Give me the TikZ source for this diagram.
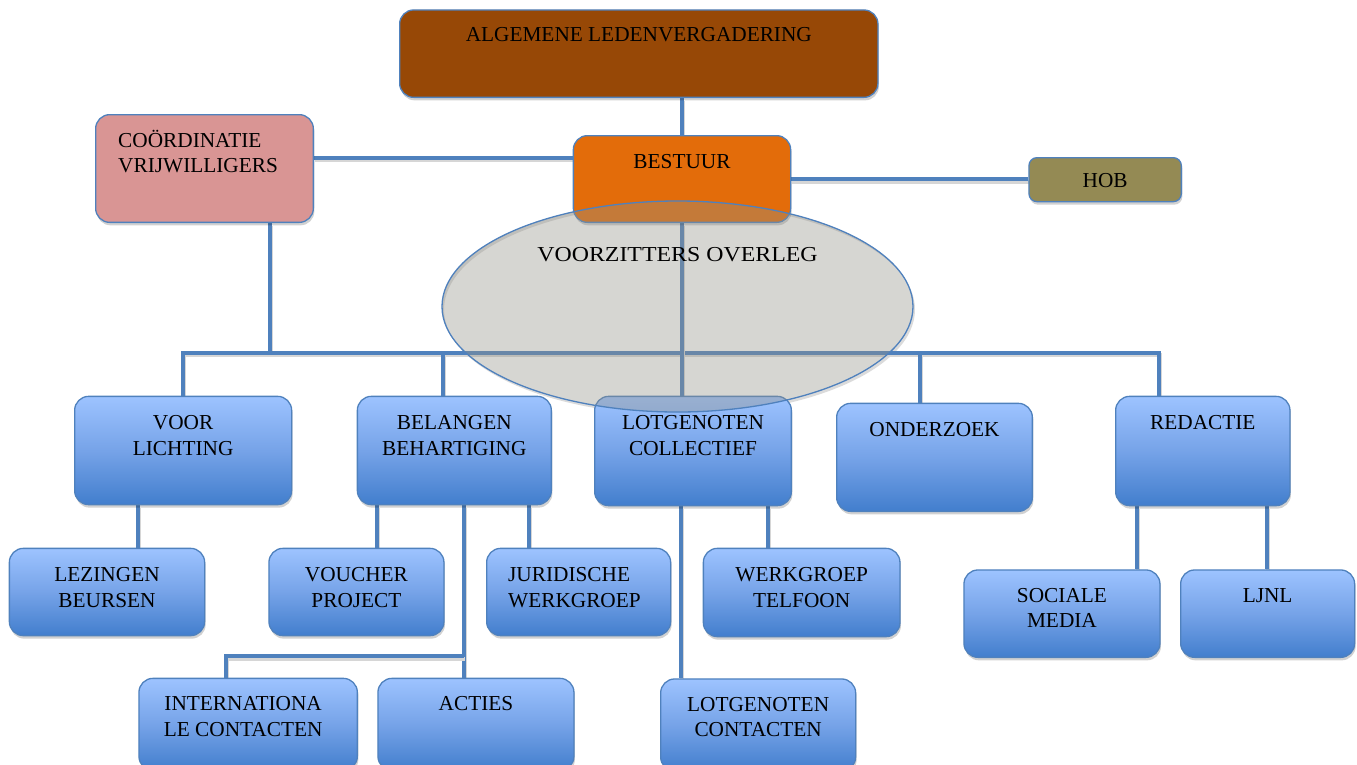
\documentclass[tikz,border=0pt]{standalone}
\usepackage{fontspec}
\setmainfont{Liberation Serif}
\usetikzlibrary{shapes.geometric,shadows,calc}
\definecolor{lineblue}{RGB}{79,129,189}
\definecolor{alvbrown}{RGB}{151,72,6}
\definecolor{coordpink}{RGB}{217,149,148}
\definecolor{bestorange}{RGB}{227,108,10}
\definecolor{hobolive}{RGB}{148,138,84}
\definecolor{boxtop}{RGB}{157,195,255}
\definecolor{boxmid}{RGB}{118,163,232}
\definecolor{boxbot}{RGB}{66,126,205}
\definecolor{ellgray}{RGB}{148,146,136}
\pgfdeclarelayer{bg}
\pgfsetlayers{bg,main}
\tikzset{
  box/.style={rounded corners=14pt, draw=lineblue, line width=1.3pt, inner sep=0pt,
    anchor=north west, drop shadow={shadow xshift=1pt, shadow yshift=-3pt, fill=black, opacity=0.18}},
  bluebox/.style={box, top color=boxtop, bottom color=boxbot, middle color=boxmid},
  lbl/.style={font=\fontsize{21.3}{25.5}\selectfont, align=center, anchor=north, inner sep=0pt, text=black},
  lbll/.style={lbl, align=left, anchor=north west},
  conn/.style={line width=4pt, draw=lineblue,
    preaction={draw=black!16, line width=4pt, transform canvas={xshift=0.8pt, yshift=-2.5pt}}},
}
\begin{document}
\begin{tikzpicture}[x=1pt,y=-1pt]
\useasboundingbox (0,0) rectangle (1357,764);
\clip (0,0) rectangle (1357,764);
% top level
\node[box, fill=alvbrown, minimum width=478.3pt, minimum height=87.4pt] (alv) at (399,9.3) {};
\node[lbl] (alv-t) at ([yshift=-14pt]alv.north) {\strut ALGEMENE LEDENVERGADERING};
\node[box, fill=coordpink, minimum width=217.7pt, minimum height=107.7pt] (coord) at (95,114) {};
\node[lbll] (coord-t) at ([xshift=23pt,yshift=-15pt]coord.north west) {\strut COÖRDINATIE\\VRIJWILLIGERS};
\node[box, fill=bestorange, minimum width=217.3pt, minimum height=86.7pt] (bestuur) at (572.7,135) {};
\node[lbl] (bestuur-t) at ([yshift=-15pt]bestuur.north) {\strut BESTUUR};
\node[box, rounded corners=8pt, fill=hobolive, minimum width=152.4pt, minimum height=44pt] (hob) at (1028.3,157) {};
\node[lbl] (hob-t) at ([yshift=-12pt]hob.north) {\strut HOB};
% level 2
\node[bluebox, minimum width=217pt, minimum height=108.3pt] (voor) at (74,395.7) {};
\node[lbl] (voor-t) at ([yshift=-16pt]voor.north) {\strut VOOR\\LICHTING};
\node[bluebox, minimum width=194pt, minimum height=108.3pt] (bel) at (356.7,395.7) {};
\node[lbl] (bel-t) at ([yshift=-16pt]bel.north) {\strut BELANGEN\\BEHARTIGING};
\node[bluebox, minimum width=196.7pt, minimum height=109.3pt] (lotcol) at (594,395.7) {};
\node[lbl] (lotcol-t) at ([yshift=-16pt]lotcol.north) {\strut LOTGENOTEN\\COLLECTIEF};
\node[bluebox, minimum width=195.7pt, minimum height=108pt] (ond) at (836,402.7) {};
\node[lbl] (ond-t) at ([yshift=-16pt]ond.north) {\strut ONDERZOEK};
\node[bluebox, minimum width=174.3pt, minimum height=109.3pt] (red) at (1115,395.7) {};
\node[lbl] (red-t) at ([yshift=-16pt]red.north) {\strut REDACTIE};
% level 3
\node[bluebox, minimum width=195.3pt, minimum height=87.3pt] (lez) at (8.7,547.7) {};
\node[lbl] (lez-t) at ([yshift=-16pt]lez.north) {\strut LEZINGEN\\BEURSEN};
\node[bluebox, minimum width=175pt, minimum height=87.3pt] (vou) at (268.3,547.7) {};
\node[lbl] (vou-t) at ([yshift=-16pt]vou.north) {\strut VOUCHER\\PROJECT};
\node[bluebox, minimum width=184pt, minimum height=87.3pt] (jur) at (486,547.7) {};
\node[lbll] (jur-t) at ([xshift=22pt,yshift=-16pt]jur.north west) {\strut JURIDISCHE\\WERKGROEP};
\node[bluebox, minimum width=196.6pt, minimum height=88.3pt] (wg) at (702.7,547.7) {};
\node[lbl] (wg-t) at ([yshift=-16pt]wg.north) {\strut WERKGROEP\\TELFOON};
\node[bluebox, minimum width=196pt, minimum height=87.4pt] (soc) at (963.3,569.3) {};
\node[lbl] (soc-t) at ([yshift=-15pt]soc.north) {\strut SOCIALE\\MEDIA};
\node[bluebox, minimum width=174pt, minimum height=87.4pt] (ljnl) at (1180,569.3) {};
\node[lbl] (ljnl-t) at ([yshift=-15pt]ljnl.north) {\strut LJNL};
% level 4
\node[bluebox, minimum width=218.4pt, minimum height=92pt] (int) at (138.3,677.7) {};
\node[lbl] (int-t) at ([xshift=-5pt,yshift=-15pt]int.north) {\strut INTERNATIONA\\LE CONTACTEN};
\node[bluebox, minimum width=196pt, minimum height=92pt] (act) at (377.3,677.7) {};
\node[lbl] (act-t) at ([yshift=-15pt]act.north) {\strut ACTIES};
\node[bluebox, minimum width=195pt, minimum height=92pt] (lotc) at (660,678.3) {};
\node[lbl] (lotc-t) at ([yshift=-15pt]lotc.north) {\strut LOTGENOTEN\\CONTACTEN};
% ellipse
\coordinate (voc) at (677.5,306.5);
\node[ellipse, draw=lineblue, line width=1.3pt, fill=ellgray, fill opacity=0.38, draw opacity=1,
  minimum width=471pt, minimum height=211pt, inner sep=0pt] (vo) at (voc) {};
\node[lbl, anchor=base] (vo-t) at (677.5,261) {\scalebox{1.12}[1]{VOORZITTERS OVERLEG}};
% connectors
\begin{pgfonlayer}{bg}
\fill[black!14, even odd rule] ([xshift=2pt,yshift=-3pt]voc) ellipse [x radius=235.5pt, y radius=105.5pt]
  (voc) ellipse [x radius=235.5pt, y radius=105.5pt];
\coordinate (bus) at (0,352.5);
\coordinate (cb) at ($(coord.east)+(0,-11)$);
\coordinate (ij) at (464,656);
\draw[conn] (alv.south -| bestuur.north) -- (bestuur.north);
\draw[conn] (cb) -- (cb -| bestuur.west);
\draw[conn] (bestuur.east) -- (bestuur.east -| hob.west);
\draw[conn] (coord.south -| 270,0) -- (bus -| 270,0);
\draw[conn] (voor.north) -- (bus -| voor.north) -- (bus -| 1159,0) -- (red.north -| 1159,0);
\draw[conn] (bel.north -| 443,0) -- (bus -| 443,0);
\draw[conn] (bestuur.south) -- (bestuur.south |- lotcol.north);
\draw[conn] (ond.north -| 920,0) -- (bus -| 920,0);
\draw[conn] (voor.south -| 138,0) -- (lez.north -| 138,0);
\draw[conn] (bel.south -| 377,0) -- (vou.north -| 377,0);
\draw[conn] (bel.south -| 529,0) -- (jur.north -| 529,0);
\draw[conn] (bel.south -| 464,0) -- (act.north -| 464,0);
\draw[conn] (int.north -| 226,0) |- (ij);
\draw[conn] (lotcol.south -| 681,0) -- (lotc.north -| 681,0);
\draw[conn] (lotcol.south -| 768,0) -- (wg.north -| 768,0);
\draw[conn] (red.south -| 1137,0) -- (soc.north -| 1137,0);
\draw[conn] (red.south -| 1267,0) -- (ljnl.north -| 1267,0);
\end{pgfonlayer}
\end{tikzpicture}
\end{document}
